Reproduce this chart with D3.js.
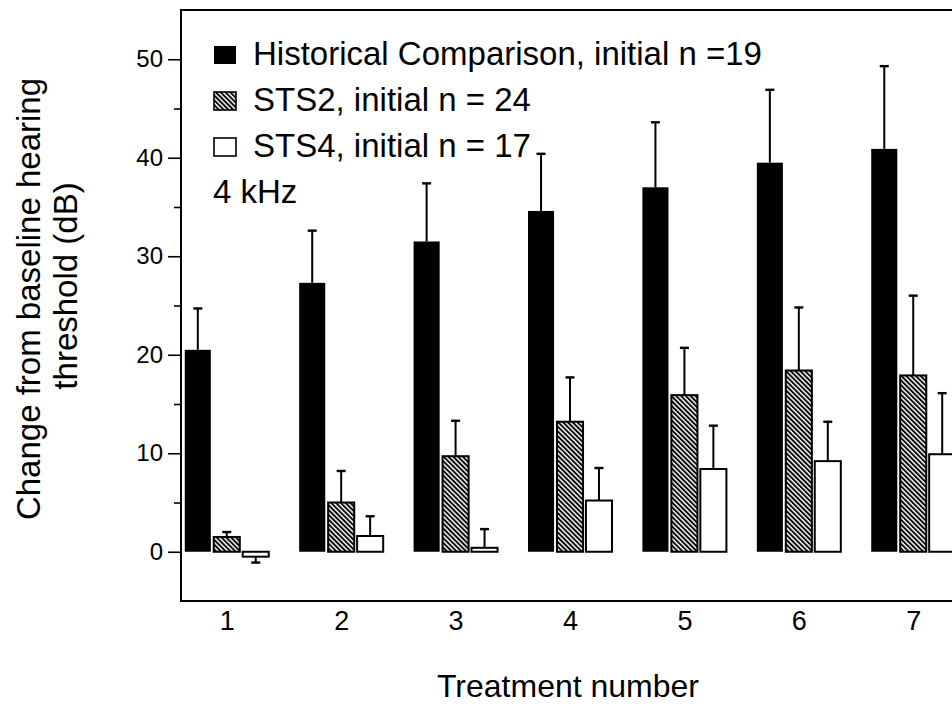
<!DOCTYPE html>
<html>
<head>
<meta charset="utf-8">
<script src="https://cdn.jsdelivr.net/npm/d3@7"></script>
<style>
  body { margin: 0; background: #fff; }
  svg { display: block; font-family: "Liberation Sans", Arial, sans-serif; }
</style>
</head>
<body>
<svg id="chart" width="952" height="706"></svg>
<script>
// treatment numbers on x
const treatments = [1, 2, 3, 4, 5, 6, 7];
const seriesNames = ['hist', 'sts2', 'sts4'];
const legendLabels = ['Historical Comparison, initial n =19', 'STS2, initial n = 24', 'STS4, initial n = 17'];

// mean change (dB) and one-sided error bar (dB)
const histMean = [20.5, 27.3, 31.5, 34.6, 37.0, 39.5, 40.9];
const histErr  = [4.2, 5.3, 5.9, 5.8, 6.6, 7.4, 8.4];
const sts2Mean = [1.5, 5.0, 9.7, 13.2, 15.9, 18.4, 17.9];
const sts2Err  = [0.5, 3.2, 3.6, 4.5, 4.8, 6.4, 8.1];
const sts4Mean = [-0.5, 1.6, 0.4, 5.2, 8.4, 9.2, 9.9];
const sts4Err  = [0.6, 2.0, 1.9, 3.3, 4.4, 4.0, 6.2];

const majorTicks = [0, 10, 20, 30, 40, 50];
const minorTicks = [5, 15, 25, 35, 45];

const means = { hist: histMean, sts2: sts2Mean, sts4: sts4Mean };
const errs = { hist: histErr, sts2: sts2Err, sts4: sts4Err };

const svg = d3.select('#chart');
const font = '"Liberation Sans", Arial, sans-serif';

const margin = { left: 181, right: 959, top: 10, bottom: 601 };

const x = d3.scalePoint()
    .domain(treatments)
    .range([margin.left, margin.right])
    .padding(0.4);
const x1 = d3.scaleBand()
    .domain(seriesNames)
    .range([-42, 42])
    .paddingInner(0.1);
const y = d3.scaleLinear()
    .domain([-5, 55])
    .range([margin.bottom, margin.top]);

// hatch pattern
const defs = svg.append('defs');
const pat = defs.append('pattern')
    .attr('id', 'hatch')
    .attr('patternUnits', 'userSpaceOnUse')
    .attr('width', 3.4)
    .attr('height', 3.4)
    .attr('patternTransform', 'rotate(-45)');
pat.append('rect').attr('width', 3.4).attr('height', 3.4).attr('fill', '#fff');
pat.append('line')
    .attr('x1', 1).attr('y1', 0).attr('x2', 1).attr('y2', 3.4)
    .attr('stroke', '#000').attr('stroke-width', 1.9);

const fills = { hist: '#000', sts2: 'url(#hatch)', sts4: '#fff' };

//frame
svg.append('rect')
    .attr('x', margin.left).attr('y', margin.top)
    .attr('width', margin.right - margin.left).attr('height', margin.bottom - margin.top)
    .attr('fill', 'none').attr('stroke', '#000').attr('stroke-width', 2);

// y axis, major + minor
const yAxis = svg.append('g')
    .attr('transform', `translate(${margin.left},0)`)
    .call(d3.axisLeft(y).tickValues(majorTicks).tickSize(13).tickPadding(5).tickFormat(d3.format('d')));
yAxis.select('.domain').remove();
yAxis.selectAll('line').attr('stroke-width', 1.6);
yAxis.selectAll('text').attr('font-size', 24).attr('font-family', font).attr('fill', '#000');

const yMinor = svg.append('g')
    .attr('transform', `translate(${margin.left},0)`)
    .call(d3.axisLeft(y).tickValues(minorTicks).tickSize(7).tickFormat(''));
yMinor.select('.domain').remove();
yMinor.selectAll('line').attr('stroke-width', 1.6);

// x axis labels only
const xAxis = svg.append('g')
    .attr('transform', `translate(0,${margin.bottom})`)
    .call(d3.axisBottom(x).tickSize(0).tickPadding(10));
xAxis.select('.domain').remove();
xAxis.selectAll('text').attr('font-size', 27).attr('font-family', font).attr('fill', '#000');

// bars
const rows = [];
seriesNames.forEach(s => {
    treatments.forEach((t, i) => {
        rows.push({ s, t, v: means[s][i], e: errs[s][i] });
    });
});

const plot = svg.append('g');

// error bars first so the bar sits on top
const eb = plot.selectAll('g.err')
    .data(rows)
    .join('g')
    .attr('class', 'err')
    .attr('transform', d => `translate(${x(d.t) + x1(d.s) + x1.bandwidth() / 2},0)`);
eb.append('line')
    .attr('y1', d => y(d.v))
    .attr('y2', d => y(d.v >= 0 ? d.v + d.e : d.v - d.e))
    .attr('stroke', '#000').attr('stroke-width', 2);
eb.append('line')
    .attr('x1', -4.5).attr('x2', 4.5)
    .attr('y1', d => y(d.v >= 0 ? d.v + d.e : d.v - d.e))
    .attr('y2', d => y(d.v >= 0 ? d.v + d.e : d.v - d.e))
    .attr('stroke', '#000').attr('stroke-width', 2.4);

plot.selectAll('rect.bar')
    .data(rows)
    .join('rect')
    .attr('class', 'bar')
    .attr('x', d => x(d.t) + x1(d.s))
    .attr('width', x1.bandwidth())
    .attr('y', d => y(Math.max(0, d.v)))
    .attr('height', d => Math.abs(y(d.v) - y(0)))
    .attr('fill', d => fills[d.s])
    .attr('stroke', '#000')
    .attr('stroke-width', d => d.s === 'hist' ? 0 : 2);

// legend
const legend = svg.append('g');
const leg = legend.selectAll('g')
    .data(seriesNames)
    .join('g')
    .attr('transform', (d, i) => `translate(214,${65 + i * 46})`);
leg.append('rect')
    .attr('x', 0).attr('y', -19)
    .attr('width', 22).attr('height', 18)
    .attr('fill', d => fills[d])
    .attr('stroke', '#000')
    .attr('stroke-width', d => d === 'hist' ? 0 : 1.6);
leg.append('text')
    .attr('x', 39).attr('y', 0)
    .attr('font-size', 33)
    .attr('font-family', font)
    .text((d, i) => legendLabels[i]);

svg.append('text')
    .attr('x', 213).attr('y', 203)
    .attr('font-size', 33)
    .attr('font-family', font)
    .text('4 kHz');

// axis titles
svg.append('text')
    .attr('transform', 'translate(40,299) rotate(-90)')
    .attr('text-anchor', 'middle')
    .attr('font-size', 33)
    .attr('font-family', font)
    .text('Change from baseline hearing');
svg.append('text')
    .attr('transform', 'translate(77,286) rotate(-90)')
    .attr('text-anchor', 'middle')
    .attr('font-size', 33)
    .attr('font-family', font)
    .text('threshold (dB)');

svg.append('text')
    .attr('x', 568).attr('y', 697)
    .attr('text-anchor', 'middle')
    .attr('font-size', 32)
    .attr('font-family', font)
    .text('Treatment number');
</script>
</body>
</html>
